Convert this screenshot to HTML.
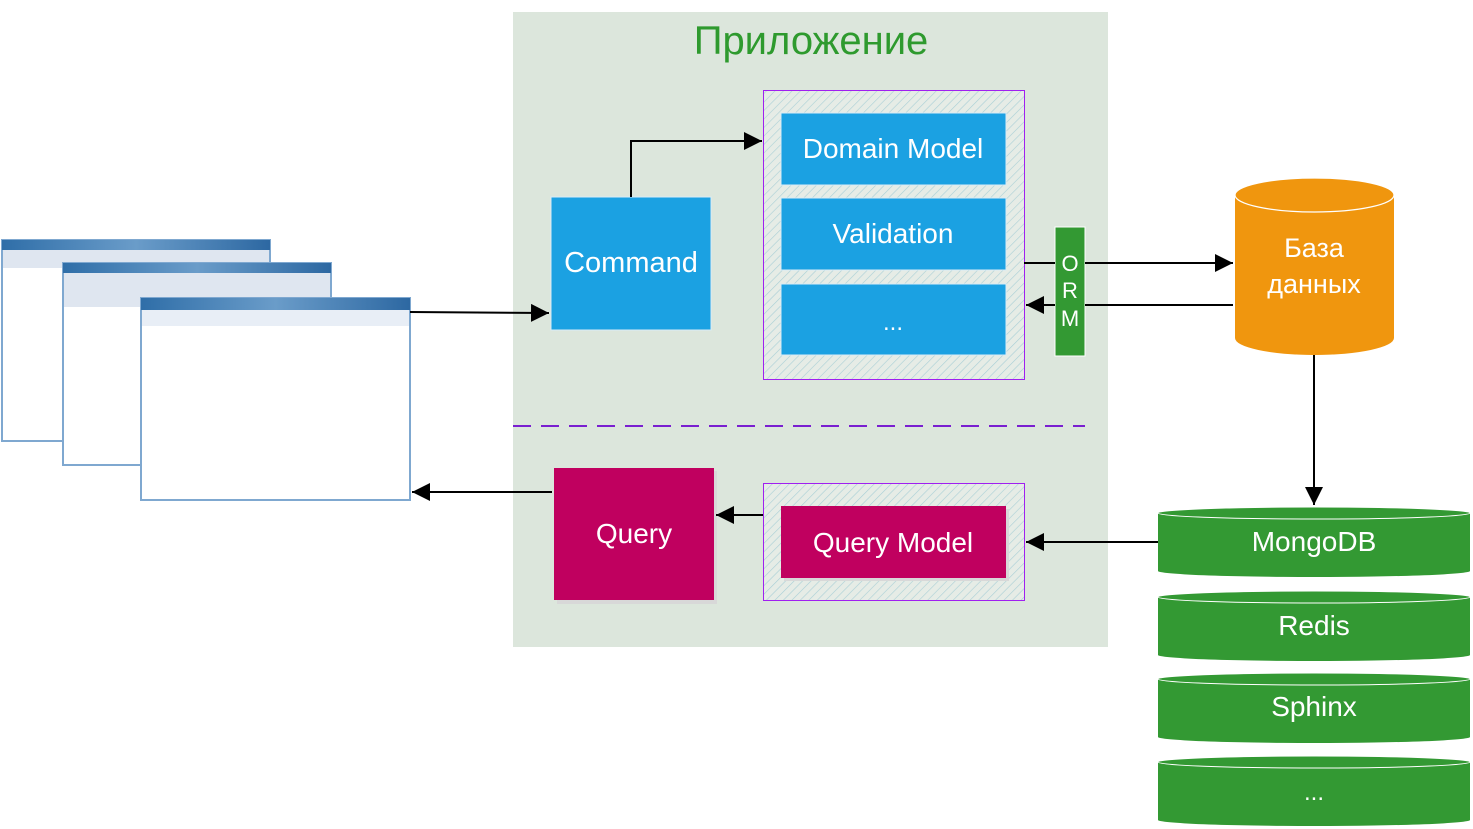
<!DOCTYPE html>
<html><head><meta charset="utf-8"><style>
html,body{margin:0;padding:0;background:#fff;width:1473px;height:829px;overflow:hidden}
svg text{font-family:"Liberation Sans",sans-serif}
</style></head><body>
<svg width="1473" height="829" viewBox="0 0 1473 829" xmlns="http://www.w3.org/2000/svg">
<defs>
<pattern id="h" width="6" height="6" patternUnits="userSpaceOnUse" patternTransform="rotate(45)">
<rect width="6" height="6" fill="#e6ece6"/><line x1="0" y1="0" x2="0" y2="6" stroke="#a9cfd6" stroke-width="1.2"/>
</pattern>
<linearGradient id="tb" x1="0" x2="1"><stop offset="0" stop-color="#2f6ea8"/><stop offset="0.5" stop-color="#6a9cc9"/><stop offset="1" stop-color="#2d68a2"/></linearGradient>
<marker id="a" viewBox="0 0 10 10" refX="10" refY="5" markerWidth="18" markerHeight="18" markerUnits="userSpaceOnUse" orient="auto"><path d="M0,0 L10,5 L0,10z" fill="#000"/></marker>
</defs>
<rect x="513" y="12" width="595" height="635" fill="#dce6dc"/>
<text x="811" y="54" font-size="40" fill="#2e9a2e" text-anchor="middle">Приложение</text>

<g>
<rect x="2" y="240" width="268" height="201" fill="#fff" stroke="#7fa8d0" stroke-width="2"/>
<rect x="2" y="240" width="268" height="10" fill="url(#tb)"/>
<rect x="3" y="250" width="266" height="18" fill="#dfe6f0"/>
<rect x="63" y="263" width="268" height="202" fill="#fff" stroke="#7fa8d0" stroke-width="2"/>
<rect x="63" y="263" width="268" height="10" fill="url(#tb)"/>
<rect x="64" y="273" width="266" height="34" fill="#dfe6f0"/>
<rect x="141" y="298" width="269" height="202" fill="#fff" stroke="#7fa8d0" stroke-width="2"/>
<rect x="141" y="298" width="269" height="12" fill="url(#tb)"/>
<rect x="142" y="310" width="267" height="16" fill="#e8eef6"/>
</g>

<rect x="551" y="197" width="160" height="133" fill="#1ba1e2" stroke="#d8ecf7"/>
<text x="631" y="272" font-size="29" fill="#fff" text-anchor="middle">Command</text>

<rect x="763.5" y="90.5" width="261" height="289" fill="url(#h)" stroke="#a020f0"/>
<rect x="781" y="113" width="225" height="72" fill="#1ba1e2" stroke="#d8ecf7"/>
<text x="893" y="158" font-size="28" fill="#fff" text-anchor="middle">Domain Model</text>
<rect x="781" y="198" width="225" height="72" fill="#1ba1e2" stroke="#d8ecf7"/>
<text x="893" y="243" font-size="28" fill="#fff" text-anchor="middle">Validation</text>
<rect x="781" y="284" width="225" height="71" fill="#1ba1e2" stroke="#d8ecf7"/>
<text x="893" y="330" font-size="24" fill="#fff" text-anchor="middle">...</text>

<rect x="1055" y="227" width="30" height="129" fill="#339933" stroke="#fff"/>
<text x="1070" y="271" font-size="22" fill="#fff" text-anchor="middle">O</text>
<text x="1070" y="298" font-size="22" fill="#fff" text-anchor="middle">R</text>
<text x="1070" y="326" font-size="22" fill="#fff" text-anchor="middle">M</text>

<path d="M1235,195 L1235,338 A79.5,17 0 0 0 1394,338 L1394,195z" fill="#f0960e"/>
<ellipse cx="1314.5" cy="195" rx="79.5" ry="17" fill="#f0960e" stroke="#fff" stroke-width="1.2"/>
<text x="1314" y="257" font-size="27" fill="#fff" text-anchor="middle">База</text>
<text x="1314" y="293" font-size="27" fill="#fff" text-anchor="middle">данных</text>

<line x1="513" y1="426" x2="1085" y2="426" stroke="#7a1fd0" stroke-width="2" stroke-dasharray="18,10"/>

<rect x="557" y="471" width="160" height="133" fill="#d8d8d8"/>
<rect x="554" y="468" width="160" height="132" fill="#c0005f"/>
<text x="634" y="543" font-size="28" fill="#fff" text-anchor="middle">Query</text>
<rect x="763.5" y="483.5" width="261" height="117" fill="url(#h)" stroke="#a020f0"/>
<rect x="784" y="509" width="225" height="72" fill="#d8d8d8"/>
<rect x="781" y="506" width="225" height="72" fill="#c0005f"/>
<text x="893" y="552" font-size="28" fill="#fff" text-anchor="middle">Query Model</text>

<g fill="#339933">
<path d="M1158,513 L1158,571 A156,6 0 0 0 1470,571 L1470,513z"/><ellipse cx="1314" cy="513" rx="156" ry="6" stroke="#fff"/>
<path d="M1158,597 L1158,655 A156,6 0 0 0 1470,655 L1470,597z"/><ellipse cx="1314" cy="597" rx="156" ry="6" stroke="#fff"/>
<path d="M1158,679 L1158,737 A156,6 0 0 0 1470,737 L1470,679z"/><ellipse cx="1314" cy="679" rx="156" ry="6" stroke="#fff"/>
<path d="M1158,762 L1158,820 A156,6 0 0 0 1470,820 L1470,762z"/><ellipse cx="1314" cy="762" rx="156" ry="6" stroke="#fff"/>
</g>
<text x="1314" y="551" font-size="28" fill="#fff" text-anchor="middle">MongoDB</text>
<text x="1314" y="635" font-size="28" fill="#fff" text-anchor="middle">Redis</text>
<text x="1314" y="716" font-size="28" fill="#fff" text-anchor="middle">Sphinx</text>
<text x="1314" y="800" font-size="24" fill="#fff" text-anchor="middle">...</text>

<g stroke="#000" stroke-width="2" fill="none">
<path d="M410,312 L549,313" marker-end="url(#a)"/>
<path d="M631,197 L631,141 L762,141" marker-end="url(#a)"/>
<path d="M1024,263 L1055,263"/>
<path d="M1085,263 L1233,263" marker-end="url(#a)"/>
<path d="M1233,305 L1085,305"/>
<path d="M1055,305 L1026,305" marker-end="url(#a)"/>
<path d="M1314,355 L1314,505" marker-end="url(#a)"/>
<path d="M1158,542 L1026,542" marker-end="url(#a)"/>
<path d="M763,515 L716,515" marker-end="url(#a)"/>
<path d="M552,492 L412,492" marker-end="url(#a)"/>
</g>
</svg>
</body></html>
